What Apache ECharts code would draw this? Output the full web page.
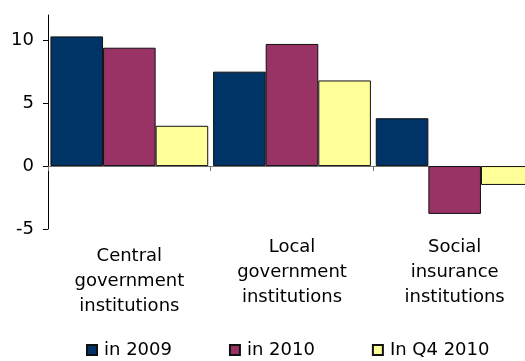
<!DOCTYPE html>
<html>
<head>
<meta charset="utf-8">
<script src="https://cdn.jsdelivr.net/npm/echarts@6/dist/echarts.min.js"></script>
<style>html,body{margin:0;padding:0;background:#fff;}#c{width:525px;height:361px;}</style>
</head>
<body>
<div id="c"></div>
<script>
const categories = ['Central\ngovernment\ninstitutions', 'Local\ngovernment\ninstitutions', 'Social\ninsurance\ninstitutions'];
const seriesNames = ['in 2009', 'in 2010', 'In Q4 2010'];
const values2009 = [10.3, 7.5, 3.8];
const values2010 = [9.4, 9.7, -3.8];
const valuesQ42010 = [3.2, 6.8, -1.5];
const yTicks = [-5, 0, 5, 10];
const colors = ['#003366', '#993366', '#FFFF99'];

const FONT = 'DejaVu Sans';
const chart = echarts.init(document.getElementById('c'), null, {renderer: 'canvas'});
const allValues = [values2009, values2010, valuesQ42010];
chart.setOption({
  animation: false,
  backgroundColor: '#fff',
  textStyle: {fontFamily: FONT},
  grid: {left: 48, top: 15, width: 488, height: 214, containLabel: false, outerBoundsMode: 'none'},
  legend: {
    left: 86, top: 341, padding: 0,
    itemWidth: 10, itemHeight: 10, itemGap: 57,
    icon: 'rect',
    textStyle: {fontFamily: FONT, fontSize: 18, color: '#000', padding: [0, 0, 0, 2]},
    data: seriesNames
  },
  xAxis: [{
    type: 'category',
    data: categories,
    axisLine: {onZero: true, lineStyle: {color: '#777', width: 1}},
    axisTick: {show: true, length: 5, inside: false, lineStyle: {color: '#777'}},
    axisLabel: {show: false},
    splitLine: {show: false}
  }, {
    type: 'category',
    data: categories.map((c, i) => i === 0 ? {value: c, textStyle: {padding: [9, 0, 0, 0]}} : c),
    position: 'bottom',
    axisLine: {show: false, onZero: false},
    axisTick: {show: false},
    axisLabel: {show: true, margin: 6, fontFamily: FONT, fontSize: 18, color: '#000', lineHeight: 25, interval: 0},
    splitLine: {show: false}
  }],
  yAxis: {
    type: 'value',
    min: -5, max: 12, interval: 5,
    axisLine: {show: true, lineStyle: {color: '#000', width: 1}},
    axisTick: {show: true, length: 5, lineStyle: {color: '#000'}, customValues: yTicks},
    axisLabel: {fontFamily: FONT, fontSize: 18, color: '#000', margin: 14, customValues: yTicks},
    splitLine: {show: false}
  },
  series: seriesNames.map((n, i) => ({
    name: n,
    type: 'bar',
    xAxisIndex: 0,
    data: allValues[i],
    barGap: '0%',
    barCategoryGap: '3%',
    itemStyle: {color: colors[i], borderColor: '#111', borderWidth: 1}
  }))
});
</script>
</body>
</html>
